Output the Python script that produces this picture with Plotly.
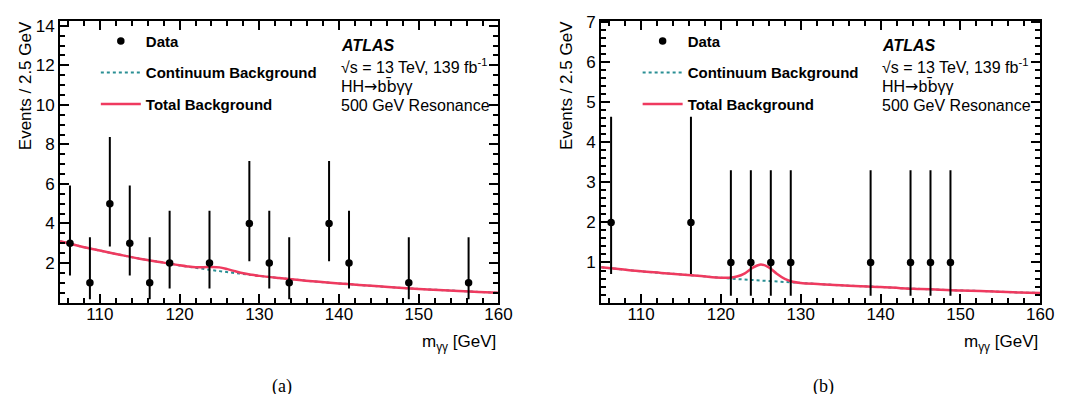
import plotly.graph_objects as go

# ---------------- data: panel (a) ----------------
mass_a = [106.25, 108.75, 111.25, 113.75, 116.25, 118.75, 123.75, 128.75,
          131.25, 133.75, 138.75, 141.25, 148.75, 156.25]
events_a = [3, 1, 5, 3, 1, 2, 2, 4, 2, 1, 4, 2, 1, 1]
err_lo_a = [1.37, 0.17, 2.84, 1.37, 0.17, 0.71, 0.71, 2.09, 0.71, 0.17, 2.09, 0.71, 0.17, 0.17]
err_hi_a = [5.92, 3.30, 8.38, 5.92, 3.30, 4.64, 4.64, 7.16, 4.64, 3.30, 7.16, 4.64, 3.30, 3.30]

# ---------------- data: panel (b) ----------------
mass_b = [106.25, 116.25, 121.25, 123.75, 126.25, 128.75, 138.75, 143.75, 146.25, 148.75]
events_b = [2, 2, 1, 1, 1, 1, 1, 1, 1, 1]
err_lo_b = [0.71, 0.71, 0.17, 0.17, 0.17, 0.17, 0.17, 0.17, 0.17, 0.17]
err_hi_b = [4.64, 4.64, 3.30, 3.30, 3.30, 3.30, 3.30, 3.30, 3.30, 3.30]

# ---------------- background curves ----------------
cont_mass = [105, 107.5, 110, 112.5, 115, 117.5, 120, 122.5, 125, 127.5, 130, 132.5,
             135, 137.5, 140, 142.5, 145, 147.5, 150, 152.5, 155, 157.5, 160]
cont_a = [3.10, 2.85, 2.63, 2.42, 2.22, 2.05, 1.88, 1.73, 1.59, 1.47, 1.35, 1.24,
          1.14, 1.05, 0.97, 0.89, 0.82, 0.75, 0.69, 0.64, 0.59, 0.54, 0.50]
cont_b = [0.88, 0.83, 0.78, 0.74, 0.70, 0.66, 0.62, 0.58, 0.55, 0.52, 0.49, 0.46,
          0.43, 0.41, 0.39, 0.36, 0.34, 0.32, 0.30, 0.29, 0.27, 0.25, 0.24]

tot_mass = [105, 107.5, 110, 112.5, 115, 117.5, 120, 121, 122, 123, 124, 125, 126, 127,
            128, 129, 130, 132.5, 135, 137.5, 140, 142.5, 145, 147.5, 150, 152.5, 155,
            157.5, 160]
tot_a = [3.10, 2.85, 2.63, 2.42, 2.22, 2.05, 1.885, 1.83, 1.79, 1.79, 1.80, 1.78, 1.69,
         1.58, 1.48, 1.41, 1.35, 1.24, 1.14, 1.05, 0.97, 0.89, 0.82, 0.75, 0.69, 0.64,
         0.59, 0.54, 0.50]
tot_b = [0.88, 0.83, 0.78, 0.74, 0.70, 0.66, 0.62, 0.62, 0.65, 0.73, 0.87, 0.95, 0.88,
         0.72, 0.59, 0.52, 0.49, 0.46, 0.43, 0.41, 0.39, 0.36, 0.34, 0.32, 0.30, 0.29,
         0.27, 0.25, 0.24]

x_range = [105, 160]
y_range_a = [0, 14.25]
y_range_b = [0, 7.03]
yticks_a = [2, 4, 6, 8, 10, 12, 14]
yticks_b = [1, 2, 3, 4, 5, 6, 7]
xticks = [110, 120, 130, 140, 150, 160]

RED = "#ef3a5f"
TEAL = "#2a8f94"
FONT = "Liberation Sans, Arial, sans-serif"
W, H = 1068, 394

fig = go.Figure()


def add_panel(xa, ya, legend, mass, ev, lo, hi, cont, tot):
    fig.add_trace(go.Scatter(
        x=cont_mass, y=cont, mode="lines", name="Continuum Background",
        line=dict(color=TEAL, width=2, dash="dot", shape="spline"),
        xaxis=xa, yaxis=ya, legend=legend, legendgroup=legend + "c", legendrank=2))
    fig.add_trace(go.Scatter(
        x=tot_mass, y=tot, mode="lines", name="Total Background",
        line=dict(color=RED, width=2.5, shape="spline"),
        xaxis=xa, yaxis=ya, legend=legend, legendgroup=legend + "t", legendrank=3))
    fig.add_trace(go.Scatter(
        x=mass, y=ev, mode="markers", name="Data",
        marker=dict(color="black", size=7.5),
        error_y=dict(type="data", symmetric=False,
                     array=[h - e for h, e in zip(hi, ev)],
                     arrayminus=[e - l for e, l in zip(ev, lo)],
                     color="black", thickness=2, width=0),
        xaxis=xa, yaxis=ya, legend=legend, legendgroup=legend + "d", legendrank=1))


add_panel("x", "y", "legend", mass_a, events_a, err_lo_a, err_hi_a, cont_a, tot_a)
add_panel("x2", "y2", "legend2", mass_b, events_b, err_lo_b, err_hi_b, cont_b, tot_b)

ydom = [1 - 292.5 / H, 1 - 5 / H]
xdom_a = [52.7 / W, 497 / W]
xdom_b = [601 / W, 1046 / W]

common_x = dict(range=x_range, tickmode="array", tickvals=xticks, ticks="inside",
                ticklen=9, tickwidth=1.5, tickcolor="black", showline=True,
                linecolor="black", linewidth=2, mirror="allticks", showgrid=False,
                zeroline=False, ticklabelstandoff=-5,
                tickfont=dict(family=FONT, size=17, color="black"),
                minor=dict(ticks="inside", ticklen=5, tickwidth=1.5, tickcolor="black",
                           tickmode="linear", tick0=0, dtick=2, showgrid=False))


def yax(rng, tv, mdt, dom):
    return dict(range=rng, tickmode="array", tickvals=tv, ticks="inside", ticklen=9,
                tickwidth=1.5, tickcolor="black", showline=True, linecolor="black",
                linewidth=2, mirror="allticks", showgrid=False, zeroline=False,
                domain=dom, tickfont=dict(family=FONT, size=17, color="black"),
                minor=dict(ticks="inside", ticklen=5, tickwidth=1.5, tickcolor="black",
                           tickmode="linear", tick0=0, dtick=mdt, showgrid=False))


legend_common = dict(font=dict(family=FONT, size=15, color="black", weight="bold"),
                     bgcolor="rgba(0,0,0,0)", borderwidth=0, tracegroupgap=9,
                     xanchor="left", yanchor="top", itemwidth=40,
                     traceorder="grouped")

fig.update_layout(
    width=W, height=H, margin=dict(l=0, r=0, t=0, b=0),
    paper_bgcolor="white", plot_bgcolor="white",
    font=dict(family=FONT, size=16, color="black"),
    xaxis=dict(common_x, domain=xdom_a, anchor="y"),
    yaxis=dict(yax(y_range_a, yticks_a, 0.5, ydom), anchor="x"),
    xaxis2=dict(common_x, domain=xdom_b, anchor="y2"),
    yaxis2=dict(yax(y_range_b, yticks_b, 0.2, ydom), anchor="x2"),
    legend=dict(legend_common, x=89 / W, y=1 - 9 / H),
    legend2=dict(legend_common, x=638 / W, y=1 - 9 / H),
    showlegend=True,
)

DV = "<span style=\"font-family:'DejaVu Sans'\">"
ann = []
for x0, x1, xt, lab in [(52.7, 497, 18, "(a)"), (601, 1046, 566, "(b)")]:
    ann.append(dict(text="Events / 2.5 GeV", textangle=-90, x=xt / W, y=1 - 3 / H,
                    xref="paper", yref="paper", xanchor="center", yanchor="top",
                    showarrow=False, font=dict(family=FONT, size=17)))
    ann.append(dict(text="m<sub>γγ</sub> [GeV]", x=x1 / W, y=1 - 334 / H,
                    xref="paper", yref="paper", xanchor="right", yanchor="middle",
                    showarrow=False, font=dict(family=FONT, size=17)))
    ann.append(dict(text=lab, x=(x0 + x1) / 2 / W + 0.003, y=1 - 378 / H,
                    xref="paper", yref="paper", xanchor="center", yanchor="middle",
                    showarrow=False,
                    font=dict(family="Liberation Serif, Times New Roman, serif", size=18)))
    tx = x0 + 283
    ann.append(dict(text="ATLAS", x=tx / W, y=1 - 30 / H, xref="paper",
                    yref="paper", xanchor="left", yanchor="middle", showarrow=False,
                    font=dict(family=FONT, size=16, weight="bold", style="italic")))
    for yy, t in [(51, "√s = 13 TeV, 139 fb<sup>-1</sup>"),
                  (72, "HH" + DV + "→</span>b" + DV + "b\u0304</span>γγ"),
                  (91, "500 GeV Resonance")]:
        ann.append(dict(text=t, x=tx / W, y=1 - yy / H, xref="paper", yref="paper",
                        xanchor="left", yanchor="middle", showarrow=False,
                        font=dict(family=FONT, size=16)))
fig.update_layout(annotations=ann)

fig.write_html("out.html")
